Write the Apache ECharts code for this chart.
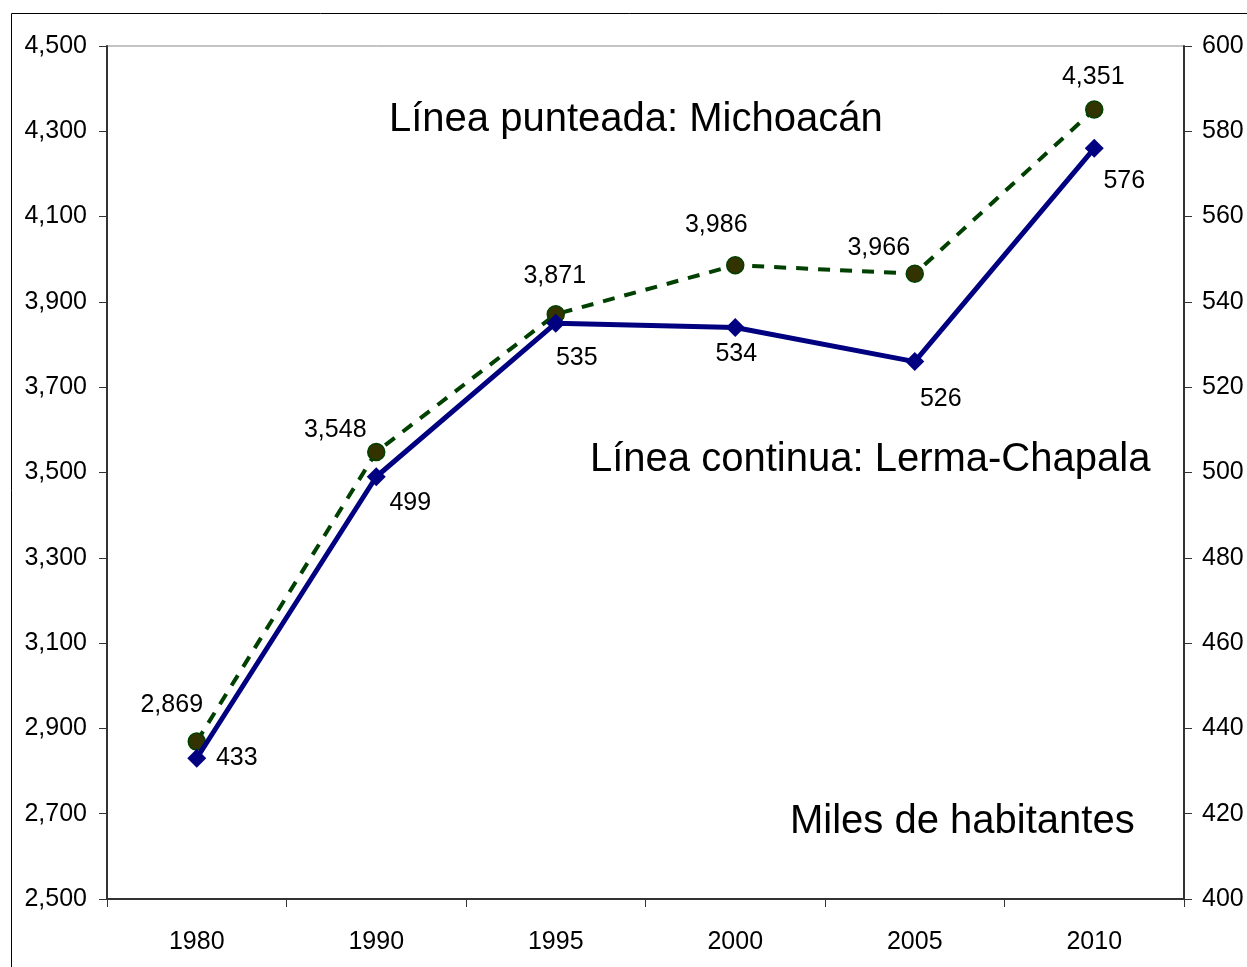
<!DOCTYPE html>
<html>
<head>
<meta charset="utf-8">
<script src="https://cdn.jsdelivr.net/npm/echarts@6/dist/echarts.min.js"></script>
<style>
  html, body { margin: 0; padding: 0; background: #fff; }
  #chart { width: 1247px; height: 967px; }
</style>
</head>
<body>
<div id="chart"></div>
<script>
var years = ['1980', '1990', '1995', '2000', '2005', '2010'];
var michoacan = [2869, 3548, 3871, 3986, 3966, 4351];
var lermaChapala = [433, 499, 535, 534, 526, 576];

// label offsets from the point (px), styling only
var michOffsets = [[-25, -37], [-41, -22], [-1, -38], [-19, -40], [-36, -26], [-1, -32]];
var lermaOffsets = [[40, 0], [34, 26], [21, 35], [1, 27], [26, 37], [30, 33]];

var myChart = echarts.init(document.getElementById('chart'));
var font = 'Liberation Sans, Arial, sans-serif';

function fmt(v) {
    return v.toLocaleString('en-US');
}

var michData = [];
for (var i = 0; i < michoacan.length; i++) {
    michData.push({ value: michoacan[i], label: { offset: michOffsets[i] } });
}
var lermaData = [];
for (var j = 0; j < lermaChapala.length; j++) {
    lermaData.push({ value: lermaChapala[j], label: { offset: lermaOffsets[j] } });
}

var option = {
    backgroundColor: '#fff',
    animation: false,
    grid: {
        left: 107,
        right: 63,
        top: 46,
        bottom: 68,
        show: true,
        borderColor: '#888',
        borderWidth: 1
    },
    graphic: [
        {
            type: 'rect',
            shape: { x: 11.5, y: 13.5, width: 1300, height: 1000 },
            style: { fill: 'none', stroke: '#000', lineWidth: 1 },
            silent: true
        },
        {
            type: 'text', left: 389, top: 100,
            style: { text: 'Línea punteada: Michoacán', font: '40px ' + font, fill: '#000' }
        },
        {
            type: 'text', left: 590, top: 440,
            style: { text: 'Línea continua: Lerma-Chapala', font: '40px ' + font, fill: '#000' }
        },
        {
            type: 'text', left: 790, top: 802,
            style: { text: 'Miles de habitantes', font: '40px ' + font, fill: '#000' }
        }
    ],
    xAxis: [{
        type: 'category',
        data: years,
        boundaryGap: true,
        axisLine: { lineStyle: { color: '#333', width: 2 } },
        axisTick: { show: true, length: 8, inside: false, lineStyle: { color: '#333' } },
        axisLabel: { color: '#000', fontSize: 25, fontFamily: font, margin: 31 },
        splitLine: { show: false }
    }],
    yAxis: [
        {
            type: 'value',
            min: 2500,
            max: 4500,
            interval: 200,
            position: 'left',
            axisLine: { show: true, lineStyle: { color: '#333', width: 2 } },
            axisTick: { show: true, length: 8, lineStyle: { color: '#333' } },
            axisLabel: {
                color: '#000', fontSize: 25, fontFamily: font, margin: 20,
                formatter: function (v) { return fmt(v); }
            },
            splitLine: { show: false }
        },
        {
            type: 'value',
            min: 400,
            max: 600,
            interval: 20,
            position: 'right',
            axisLine: { show: true, lineStyle: { color: '#333', width: 2 } },
            axisTick: { show: true, length: 8, lineStyle: { color: '#333' } },
            axisLabel: { color: '#000', fontSize: 25, fontFamily: font, margin: 18 },
            splitLine: { show: false }
        }
    ],
    series: [
        {
            name: 'Michoacán',
            type: 'line',
            yAxisIndex: 0,
            data: michData,
            symbol: 'circle',
            symbolSize: 17,
            lineStyle: { color: '#004000', width: 4, type: [12, 10] },
            itemStyle: { color: '#333300', borderColor: '#004000', borderWidth: 1.5 },
            label: {
                show: true,
                position: 'inside',
                color: '#000',
                fontSize: 25,
                fontFamily: font,
                formatter: function (p) { return fmt(p.value); }
            },
            z: 2
        },
        {
            name: 'Lerma-Chapala',
            type: 'line',
            yAxisIndex: 1,
            data: lermaData,
            symbol: 'diamond',
            symbolSize: 19,
            lineStyle: { color: '#000080', width: 5 },
            itemStyle: { color: '#000080' },
            label: {
                show: true,
                position: 'inside',
                color: '#000',
                fontSize: 25,
                fontFamily: font
            },
            z: 3
        }
    ]
};

myChart.setOption(option);
</script>
</body>
</html>
